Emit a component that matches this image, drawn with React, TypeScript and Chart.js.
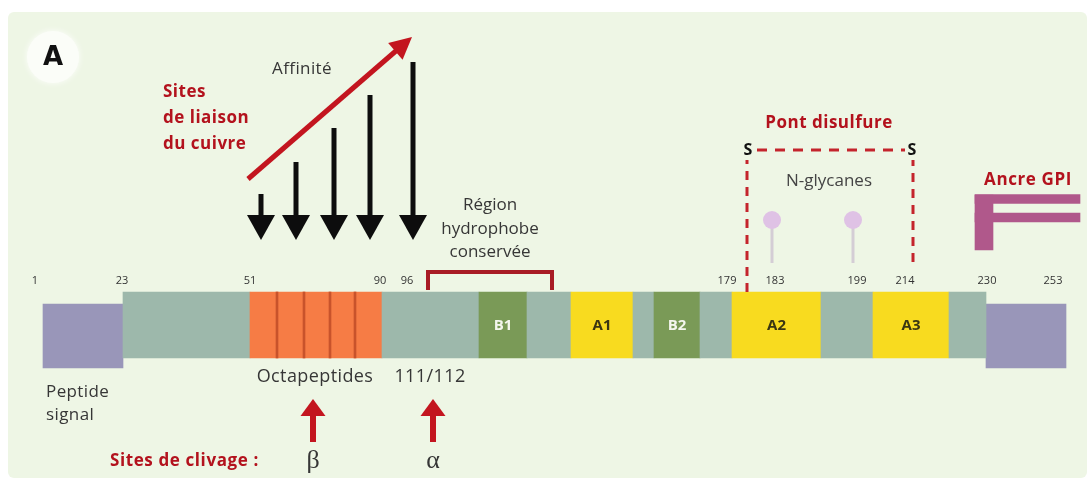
import React, { useEffect, useRef } from 'react';
import { Chart, registerables } from 'chart.js';

Chart.register(...registerables);

// ---------- DATA (schematic diagram units along the protein) ----------
// Residue numbers printed above the bar, and where they sit on the schematic
const residueLabels = ['1', '23', '51', '90', '96', '179', '183', '199', '214', '230', '253'];
const residuePositions = [35, 122, 250, 380, 407, 727, 775, 857, 905, 987, 1053];

// Mature protein domains (schematic start / end) and their kind / label
const domainKinds = ['linker', 'octa', 'linker', 'B', 'linker', 'A', 'linker', 'B', 'linker', 'A', 'linker', 'A', 'linker'];
const domainStart = [123, 250, 382, 479, 527, 571, 633, 654, 700, 732, 821, 873, 949];
const domainEnd = [250, 382, 479, 527, 571, 633, 654, 700, 732, 821, 873, 949, 986];
const domainLabels = ['', '', '', 'B1', '', 'A1', '', 'B2', '', 'A2', '', 'A3', ''];

// Cleaved signal peptides (N-terminal signal peptide, C-terminal GPI signal)
const signalStart = [43, 986];
const signalEnd = [123, 1066];

// Boundaries between the octapeptide repeats
const octaBoundaries = [277, 304, 330, 355];

// Copper binding sites: position and arrow length (affinity)
const copperSiteX = [261, 296, 334, 370, 413];
const copperArrowTop = [194, 162, 128, 95, 62];
const copperArrowTip = [240, 240, 240, 240, 240];

// Affinity trend arrow (tail -> head)
const affinityX = [248, 412];
const affinityY = [179, 37];

// Cleavage sites
const cleavageNames = ['β', 'α'];
const cleavageX = [313, 433];

// Conserved hydrophobic region bracket
const hydroX = [428, 552];

// Disulfide bridge (Cys179 - Cys214)
const disulfideX = [747, 913];
const disulfideBottom = [292, 262];

// N-glycosylation sites
const glycanX = [772, 853];

// GPI anchor glyph
const gpiArmStart = [975, 975];
const gpiArmEnd = [1080, 1080];
const gpiArmY = [199, 217.5];
const gpiStem = [975, 993];

// ---------- STYLES ----------
const kindColor: Record<string, string> = {
  linker: '#9db8ab',
  octa: '#f67c45',
  B: '#7a9a57',
  A: '#f8db1f',
};
const RED = '#b3121d';
const TEXT = '#363636';
const FONT = "'Open Sans', 'DejaVu Sans', sans-serif";

type Note = { t: string; x: number; y: number; f: string; c: string; a?: CanvasTextAlign; ls?: string };
const notes: Note[] = [
  { t: 'Affinité', x: 302, y: 69, f: `17px ${FONT}`, c: TEXT, ls: '0.4px' },
  { t: 'Sites', x: 163, y: 92, f: `bold 17px ${FONT}`, c: RED, a: 'left', ls: '0.5px' },
  { t: 'de liaison', x: 163, y: 118, f: `bold 17px ${FONT}`, c: RED, a: 'left', ls: '0.5px' },
  { t: 'du cuivre', x: 163, y: 144, f: `bold 17px ${FONT}`, c: RED, a: 'left', ls: '0.5px' },
  { t: 'Région', x: 490, y: 205, f: `17px ${FONT}`, c: TEXT },
  { t: 'hydrophobe', x: 490, y: 229, f: `17px ${FONT}`, c: TEXT },
  { t: 'conservée', x: 490, y: 252, f: `17px ${FONT}`, c: TEXT },
  { t: 'Pont disulfure', x: 829, y: 123, f: `bold 17px ${FONT}`, c: RED, ls: '0.5px' },
  { t: 'S', x: 748, y: 150, f: `bold 16px ${FONT}`, c: '#111' },
  { t: 'S', x: 912, y: 150, f: `bold 16px ${FONT}`, c: '#111' },
  { t: 'N-glycanes', x: 829, y: 181, f: `17px ${FONT}`, c: '#444' },
  { t: 'Ancre GPI', x: 1028, y: 180, f: `bold 17px ${FONT}`, c: RED, ls: '0.6px' },
  { t: 'Octapeptides', x: 315, y: 377, f: `18px ${FONT}`, c: TEXT, ls: '0.4px' },
  { t: '111/112', x: 430, y: 377, f: `18px ${FONT}`, c: TEXT, ls: '0.4px' },
  { t: 'Peptide', x: 46, y: 392, f: `17px ${FONT}`, c: TEXT, a: 'left', ls: '0.4px' },
  { t: 'signal', x: 46, y: 415, f: `17px ${FONT}`, c: TEXT, a: 'left', ls: '0.4px' },
  { t: 'Sites de clivage :', x: 110, y: 461, f: `bold 17px ${FONT}`, c: RED, a: 'left', ls: '0.6px' },
];

function drawArrow(
  ctx: CanvasRenderingContext2D, x0: number, y0: number, x1: number, y1: number,
  shaftW: number, headLen: number, headW: number, color: string,
) {
  const dx = x1 - x0, dy = y1 - y0;
  const len = Math.hypot(dx, dy);
  const ux = dx / len, uy = dy / len;
  const bx = x1 - ux * headLen, by = y1 - uy * headLen;
  ctx.save();
  ctx.strokeStyle = color;
  ctx.fillStyle = color;
  ctx.lineWidth = shaftW;
  ctx.lineCap = 'butt';
  ctx.beginPath();
  ctx.moveTo(x0, y0);
  ctx.lineTo(bx + ux, by + uy);
  ctx.stroke();
  ctx.beginPath();
  ctx.moveTo(x1, y1);
  ctx.lineTo(bx - uy * headW / 2, by + ux * headW / 2);
  ctx.lineTo(bx + uy * headW / 2, by - ux * headW / 2);
  ctx.closePath();
  ctx.fill();
  ctx.restore();
}

const diagramPlugin = {
  id: 'prionDiagram',
  beforeDraw(chart: any) {
    const { ctx, width, height } = chart;
    const X = (v: number) => chart.scales.x.getPixelForValue(v);
    const Y = (v: number) => chart.scales.y.getPixelForValue(v);
    ctx.save();
    ctx.fillStyle = '#ffffff';
    ctx.fillRect(0, 0, width, height);
    ctx.fillStyle = '#eef6e5';
    ctx.beginPath();
    (ctx as any).roundRect(X(8), Y(12), X(1087) - X(8), Y(478) - Y(12), 6);
    ctx.fill();
    // panel label "A" in a soft white disc
    ctx.shadowColor = 'rgba(255,255,255,0.9)';
    ctx.shadowBlur = 6;
    ctx.fillStyle = '#fbfdf8';
    ctx.beginPath();
    ctx.arc(X(53), Y(57), 26, 0, Math.PI * 2);
    ctx.fill();
    ctx.shadowBlur = 0;
    ctx.fillStyle = '#111';
    ctx.font = "bold 26px 'DejaVu Sans', sans-serif";
    ctx.textAlign = 'center';
    ctx.textBaseline = 'middle';
    ctx.fillText('A', X(53), Y(58));
    ctx.restore();
  },
  afterDatasetsDraw(chart: any) {
    const { ctx } = chart;
    const X = (v: number) => chart.scales.x.getPixelForValue(v);
    const Y = (v: number) => chart.scales.y.getPixelForValue(v);

    // copper binding arrows
    copperSiteX.forEach((x, i) => {
      drawArrow(ctx, X(x), Y(copperArrowTop[i]), X(x), Y(copperArrowTip[i]), 5, 25, 28, '#0d0d0d');
    });
    // affinity arrow
    drawArrow(ctx, X(affinityX[0]), Y(affinityY[0]), X(affinityX[1]), Y(affinityY[1]), 5, 22, 22, '#c3151f');
    // cleavage arrows
    cleavageX.forEach((x) => {
      drawArrow(ctx, X(x), Y(442), X(x), Y(399), 6, 17, 25, '#c3151f');
    });

    ctx.save();
    ctx.textBaseline = 'middle';
    // greek letters
    cleavageX.forEach((x, i) => {
      ctx.font = "26px 'Liberation Serif', 'DejaVu Serif', serif";
      ctx.fillStyle = TEXT;
      ctx.textAlign = 'center';
      ctx.fillText(cleavageNames[i], X(x), Y(461));
    });
    // residue numbers
    ctx.font = `11px ${FONT}`;
    ctx.fillStyle = '#333';
    ctx.textAlign = 'center';
    residueLabels.forEach((l, i) => ctx.fillText(l, X(residuePositions[i]), Y(281)));
    // domain labels inside boxes
    const meta = chart.getDatasetMeta(2);
    meta.data.forEach((el: any, i: number) => {
      const lab = domainLabels[i];
      if (!lab) return;
      const kind = domainKinds[i];
      ctx.font = `bold 15px ${FONT}`;
      ctx.fillStyle = kind === 'B' ? '#f4f6ee' : '#3a3612';
      ctx.fillText(lab, (el.x + el.base) / 2, el.y + 1);
    });
    // free annotations
    notes.forEach((n) => {
      ctx.font = n.f;
      ctx.fillStyle = n.c;
      ctx.textAlign = n.a || 'center';
      (ctx as any).letterSpacing = n.ls || '0px';
      ctx.fillText(n.t, X(n.x), Y(n.y));
    });
    (ctx as any).letterSpacing = '0px';
    ctx.restore();
  },
};

const hBar = (extra: any) => ({
  type: 'bar',
  indexAxis: 'y',
  grouped: false,
  borderWidth: 0,
  borderSkipped: false,
  ...extra,
});

const line = (pts: { x: number; y: number }[], color: string, width: number, dash: number[] = []) => ({
  type: 'line',
  data: pts,
  borderColor: color,
  borderWidth: width,
  borderDash: dash,
  pointRadius: 0,
  fill: false,
  tension: 0,
  order: 1,
});

export default function App() {
  const ref = useRef<HTMLCanvasElement | null>(null);
  useEffect(() => {
    if (!ref.current) return;
    const datasets: any[] = [
      // 0: octapeptide dividers
      hBar({
        label: 'repeats',
        data: octaBoundaries.map((b) => ({ x: [b - 1, b + 1], y: 325 })),
        backgroundColor: '#c8532b',
        barThickness: 66,
        order: 0,
      }),
      // 1: signal peptides
      hBar({
        label: 'signal',
        data: signalStart.map((s, i) => ({ x: [s, signalEnd[i]], y: 336 })),
        backgroundColor: '#9996b9',
        barThickness: 64,
        order: 3,
      }),
      // 2: domains
      hBar({
        label: 'domains',
        data: domainStart.map((s, i) => ({ x: [s, domainEnd[i]], y: 325 })),
        backgroundColor: domainKinds.map((k) => kindColor[k]),
        barThickness: 66,
        order: 2,
      }),
      // 3: GPI arms
      hBar({
        label: 'gpiArms',
        data: gpiArmStart.map((s, i) => ({ x: [s, gpiArmEnd[i]], y: gpiArmY[i] })),
        backgroundColor: '#b0588b',
        barThickness: 9,
        order: 2,
      }),
      // 4: GPI stem
      hBar({
        label: 'gpiStem',
        data: [{ x: [gpiStem[0], gpiStem[1]], y: 222.5 }],
        backgroundColor: '#b0588b',
        barThickness: 55,
        order: 2,
      }),
      // hydrophobic bracket
      line(
        [
          { x: hydroX[0], y: 290 },
          { x: hydroX[0], y: 272 },
          { x: hydroX[1], y: 272 },
          { x: hydroX[1], y: 290 },
        ],
        '#a81c25',
        4,
      ),
      // disulfide bridge
      line([{ x: disulfideX[0], y: disulfideBottom[0] }, { x: disulfideX[0], y: 160 }], '#c4242c', 3, [9, 7]),
      line([{ x: disulfideX[1], y: disulfideBottom[1] }, { x: disulfideX[1], y: 160 }], '#c4242c', 3, [9, 7]),
      line([{ x: disulfideX[0] + 10, y: 150 }, { x: disulfideX[1] - 8, y: 150 }], '#c4242c', 3, [10, 8]),
      // glycan stems
      ...glycanX.map((g) => line([{ x: g, y: 228 }, { x: g, y: 263 }], '#d4cdd5', 3)),
      // glycan heads
      {
        type: 'scatter',
        data: glycanX.map((g) => ({ x: g, y: 220 })),
        backgroundColor: '#dfc2e5',
        borderWidth: 0,
        pointRadius: 9,
        showLine: false,
        order: 0,
      },
    ];

    const chart = new Chart(ref.current, {
      type: 'bar',
      data: { datasets },
      options: {
        animation: false,
        responsive: false,
        devicePixelRatio: 1,
        events: [],
        layout: { padding: 0, autoPadding: false },
        plugins: { legend: { display: false }, tooltip: { enabled: false } },
        scales: {
          x: { type: 'linear', min: 0, max: 1091, display: false, offset: false },
          y: { type: 'linear', min: 0, max: 484, reverse: true, display: false, offset: false },
        },
      },
      plugins: [diagramPlugin],
    } as any);
    return () => chart.destroy();
  }, []);

  return (
    <div style={{ position: 'absolute', left: 0, top: 0, width: 1091, height: 484 }}>
      <canvas ref={ref} width={1091} height={484} style={{ width: 1091, height: 484, display: 'block' }} />
    </div>
  );
}
